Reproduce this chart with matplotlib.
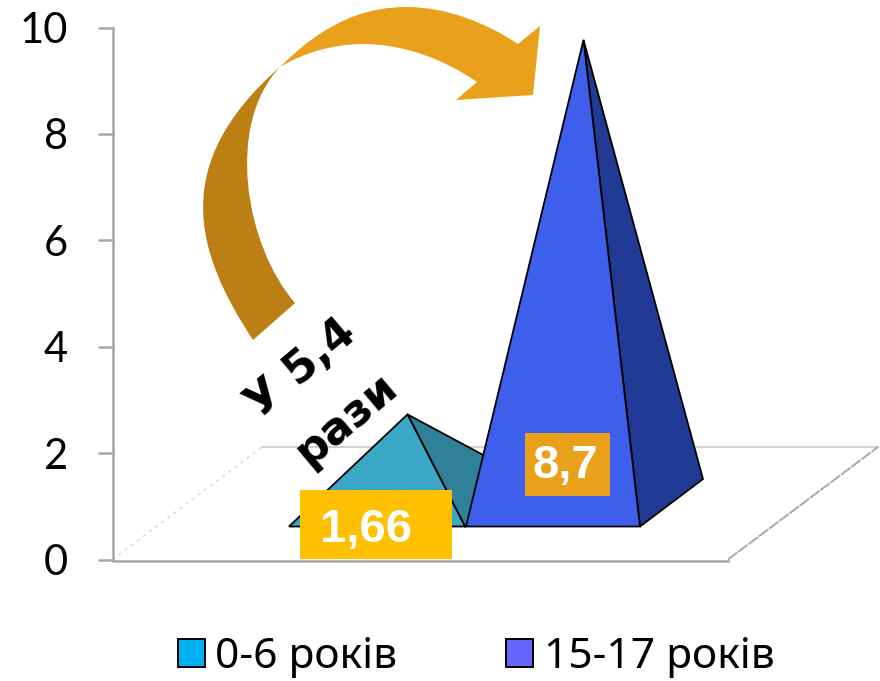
#!/usr/bin/env python3
# Two 3D-look pyramids (0-6 vs 15-17 years) with a curved arrow between them
import matplotlib
matplotlib.use("Agg")
import matplotlib.pyplot as plt
from matplotlib.patches import PathPatch, Patch, Polygon, Rectangle
from matplotlib.path import Path

categories = ["0-6 років", "15-17 років"]
values = [1.66, 8.7]
value_labels = ["1,66", "8,7"]
y_ticks = [0, 2, 4, 6, 8, 10]

W, H = 880, 681
AX_L, AX_R, Y0, Y10 = 112.5, 880, 559.5, 27.5
FONT = ["Lato", "Noto Sans", "DejaVu Sans"]
GREY = "#A6A6A6"
plt.rcParams["font.family"] = FONT

fig = plt.figure(figsize=(W / 100, H / 100), dpi=100)
ax = fig.add_axes([AX_L / W, 1 - Y0 / H, (AX_R - AX_L) / W, (Y0 - Y10) / H])
ax.set_xlim(AX_L, AX_R)
ax.set_ylim(0, 10)
unit = (Y0 - Y10) / 10  # pixels per y unit
for s in ["top", "right"]:
    ax.spines[s].set_visible(False)
ax.spines["left"].set_color(GREY)
ax.spines["left"].set_linewidth(1.8)
ax.spines["bottom"].set_color(GREY)
ax.spines["bottom"].set_linewidth(1.8)
ax.spines["bottom"].set_position(("outward", 1))
ax.spines["bottom"].set_bounds(AX_L, 728)
ax.set_xticks([])
ax.set_yticks(y_ticks)
ax.tick_params(axis="y", length=11, width=1.8, color=GREY, labelsize=30, pad=21)
ax.patch.set_visible(False)

# floor of the 3D box
floor_back = (Y0 - 447) / unit
ax.plot([262, 878], [floor_back, floor_back], color="#D2D2D2", lw=1.6, clip_on=False)
ax.plot([728, 878], [0, floor_back], color="#A8A8A8", lw=1.4, ls=(0, (6, 0.6)), clip_on=False)
ax.plot([AX_L, 262], [0, floor_back], color="#D8D8D8", lw=1.1, ls=(0, (2, 3)), clip_on=False)

# pyramids: apex height above the middle of the base is the value
front_y = (Y0 - 526.5) / unit
back_y = (Y0 - 479) / unit
mid_y = (front_y + back_y) / 2
lefts = [289, 466]
widths = [176, 174]
depth = 63
front_cols = ["#3CA8C8", "#3E5EEC"]
side_cols = ["#2F8199", "#213A96"]
for i, v in enumerate(values):
    x0, x1 = lefts[i], lefts[i] + widths[i]
    apex = (x0 + (widths[i] + depth) / 2 - 1, mid_y + v)
    ax.add_patch(Polygon([apex, (x1, front_y), (x1 + depth, back_y)], closed=True,
                         fc=side_cols[i], ec="black", lw=1.3, zorder=3 + i, clip_on=False))
    ax.add_patch(Polygon([apex, (x0, front_y), (x1, front_y)], closed=True,
                         fc=front_cols[i], ec="black", lw=1.3, zorder=3 + i, clip_on=False))

# overlay in image pixels for the annotations
ov = fig.add_axes([0, 0, 1, 1])
ov.set_xlim(0, W)
ov.set_ylim(H, 0)
ov.axis("off")

C4, L = Path.CURVE4, Path.LINETO
dark = [(253, 340), (195, 252), (169, 164), (280, 67), (225, 125), (245, 245), (295, 303), (253, 340)]
dark_codes = [Path.MOVETO, C4, C4, C4, C4, C4, C4, Path.CLOSEPOLY]
ov.add_patch(PathPatch(Path(dark, dark_codes), fc="#BB7F14", ec="none", zorder=5))
light = [(280, 67), (325, 22), (365, 7), (407, 7), (445, 7), (485, 22), (518, 44),
         (540, 26), (533, 95), (456, 100), (477, 82),
         (445, 60), (405, 44), (363, 44), (335, 44), (305, 52), (280, 67), (280, 67)]
light_codes = [Path.MOVETO, C4, C4, C4, C4, C4, C4, L, L, L, L, C4, C4, C4, C4, C4, C4, Path.CLOSEPOLY]
ov.add_patch(PathPatch(Path(light, light_codes), fc="#E9A01B", ec="none", zorder=5))

# value boxes
ov.add_patch(Rectangle((300, 490), 152, 69, fc="#FFC000", ec="none", zorder=6))
ov.add_patch(Rectangle((525, 433), 84.5, 63, fc="#E9A01B", ec="none", zorder=6))
ov.text(366, 530, value_labels[0], color="white", fontsize=34, fontweight="bold",
        family="Liberation Sans", ha="center", va="center", zorder=7)
ov.text(565, 466, value_labels[1], color="white", fontsize=34, fontweight="bold",
        family="Liberation Sans", ha="center", va="center", zorder=7)

# rotated note
ov.text(301, 369, "У 5,4", fontsize=32, fontweight="bold", rotation=40, color="black",
        family="DejaVu Sans", ha="center", va="center", zorder=7)
ov.text(346, 419, "рази", fontsize=32, fontweight="bold", rotation=40, color="black",
        family="DejaVu Sans", ha="center", va="center", zorder=7)

handles = [Patch(fc="#00B0F0", ec="black", lw=1.4), Patch(fc="#6666FF", ec="black", lw=1.4)]
fig.legend(handles, categories, loc="center", bbox_to_anchor=(476 / W, 1 - 657 / H), ncol=2,
           frameon=False, handlelength=0.635, handleheight=0.635,
           handletextpad=0.25, columnspacing=2.56,
           prop={"family": ["Noto Sans", "DejaVu Sans"], "size": 30.6})

fig.savefig("out.png", dpi=100)
